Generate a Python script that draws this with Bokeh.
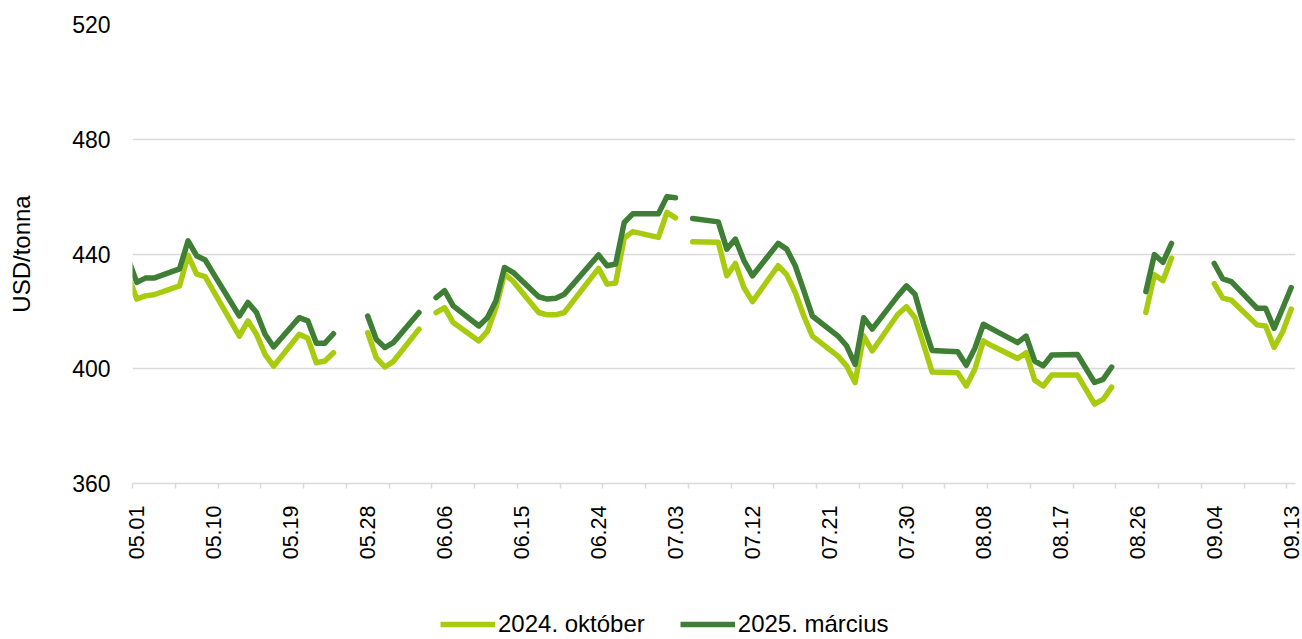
import math
import numpy as np
import pandas as pd
from bokeh.plotting import figure
from bokeh.layouts import column
from bokeh.models import FixedTicker, Legend, LegendItem, ColumnDataSource
from bokeh.embed import file_html
from bokeh.resources import INLINE

YEAR = 2024
START = "05.01"

dates = ["04.30", "05.01", "05.02", "05.03", "05.06", "05.07", "05.08", "05.09", "05.10",
         "05.13", "05.14", "05.15", "05.16", "05.17", "05.20", "05.21", "05.22", "05.23", "05.24",
         "05.27", "05.28", "05.29", "05.30", "05.31", "06.03", "06.04", "06.05", "06.06", "06.07",
         "06.10", "06.11", "06.12", "06.13", "06.14", "06.17", "06.18", "06.19", "06.20", "06.21",
         "06.24", "06.25", "06.26", "06.27", "06.28", "07.01", "07.02", "07.03", "07.04", "07.05",
         "07.08", "07.09", "07.10", "07.11", "07.12", "07.15", "07.16", "07.17", "07.18", "07.19",
         "07.22", "07.23", "07.24", "07.25", "07.26", "07.29", "07.30", "07.31", "08.01", "08.02",
         "08.05", "08.06", "08.07", "08.08", "08.09", "08.12", "08.13", "08.14", "08.15", "08.16",
         "08.19", "08.20", "08.21", "08.22", "08.23", "08.26", "08.27", "08.28", "08.29", "08.30",
         "09.02", "09.03", "09.04", "09.05", "09.06", "09.09", "09.10", "09.11", "09.12", "09.13"]

oct_2024 = [432.3, 424.3, 425.4, 425.8, 428.9, 439.5, 433.0, 432.1, 426.9,
            411.4, 416.7, 412.0, 405.0, 400.9, 412.0, 410.6, 402.1, 402.7, 405.6,
            None, 412.6, 403.9, 400.6, 402.5, 413.8, None, 419.6, 421.3, 416.1,
            409.7, 413.0, 421.3, 433.0, 430.5, 419.6, 418.8, 418.8, 419.6, 423.5,
            435.0, 429.5, 429.9, 445.6, 447.8, 445.8, 454.5, 452.6, None, 444.3,
            444.1, 432.4, 436.7, 428.3, 423.4, 435.9, 432.8, 426.6, 418.4, 411.4,
            404.4, 401.0, 395.2, 411.4, 406.2, 419.0, 421.6, 417.8, 408.5, 398.9,
            398.6, 394.0, 399.8, 409.7, 408.0, 403.6, 405.6, 396.0, 394.0, 397.8,
            397.8, 392.7, 387.7, 389.3, 393.6, None, 419.6, 432.8, 430.7, 438.6,
            None, None, 429.7, 424.6, 423.9, 415.3, 414.9, 407.4, 412.9, 420.8]

mar_2025 = [438.3, 430.1, 431.6, 431.6, 434.8, 444.6, 439.4, 437.9, 433.0,
            418.4, 423.1, 419.6, 412.0, 407.6, 417.8, 416.7, 408.9, 408.9, 412.2,
            None, 418.4, 410.3, 407.4, 409.1, 419.6, None, 424.8, 427.2, 421.9,
            414.9, 417.8, 423.7, 435.3, 433.6, 425.1, 424.3, 424.6, 426.0, 429.4,
            439.7, 435.9, 436.5, 451.0, 454.0, 454.0, 460.0, 459.6, None, 452.4,
            451.2, 441.7, 445.2, 437.7, 432.4, 443.7, 441.7, 435.9, 427.2, 418.4,
            411.4, 408.0, 401.5, 417.8, 413.8, 425.4, 428.9, 426.0, 415.5, 406.4,
            405.9, 401.2, 407.1, 415.5, 413.9, 409.1, 411.4, 402.7, 401.0, 404.8,
            405.0, 400.1, 395.2, 396.3, 400.6, None, 426.9, 439.8, 437.1, 443.7,
            None, None, 436.7, 431.3, 430.4, 421.1, 421.1, 414.1, 421.1, 428.3]

tick_labels = ["05.01", "05.10", "05.19", "05.28", "06.06", "06.15", "06.24", "07.03",
               "07.12", "07.21", "07.30", "08.08", "08.17", "08.26", "09.04", "09.13"]
y_ticks = [360, 400, 440, 480, 520]
series_names = ["2024. október", "2025. március"]
y_title = "USD/tonna"
colors = ["#A9CB0F", "#3F7F35"]

FONT = "Liberation Sans"
LW = 5.5


def to_day(s):
    t = pd.Timestamp(f"{YEAR}-{s[:2]}-{s[3:]}")
    t0 = pd.Timestamp(f"{YEAR}-{START[:2]}-{START[3:]}")
    return (t - t0).days


x = [to_day(d) for d in dates]
src = ColumnDataSource(dict(
    x=x,
    a=[np.nan if v is None else v for v in oct_2024],
    b=[np.nan if v is None else v for v in mar_2025],
))

last_day = to_day(tick_labels[-1])

p = figure(width=1302, height=565, x_range=(-0.5, last_day + 0.5), y_range=(360, 520),
           output_backend="svg", toolbar_location=None,
           min_border_left=132, min_border_right=7, min_border_top=24, min_border_bottom=82)
p.outline_line_color = None
p.background_fill_color = "white"
p.border_fill_color = "white"

r1 = p.line("x", "a", source=src, line_color=colors[0], line_width=LW,
            line_join="round", line_cap="round")
r2 = p.line("x", "b", source=src, line_color=colors[1], line_width=LW,
            line_join="round", line_cap="round")

# x axis
tick_pos = [to_day(t) for t in tick_labels]
minor = [k - 0.5 for k in range(0, last_day + 1, 5)]
xa = p.xaxis[0]
xa.ticker = FixedTicker(ticks=tick_pos, minor_ticks=minor)
xa.major_label_overrides = {t: lab for t, lab in zip(tick_pos, tick_labels)}
xa.major_label_orientation = math.pi / 2
xa.major_tick_line_color = None
xa.major_tick_out = 0
xa.major_tick_in = 0
xa.minor_tick_line_color = "#D9D9D9"
xa.minor_tick_line_width = 1.5
xa.minor_tick_out = 5
xa.minor_tick_in = 0
xa.axis_line_color = "#D9D9D9"
xa.axis_line_width = 1.5
xa.major_label_standoff = 17
xa.major_label_text_font = FONT
xa.major_label_text_font_size = "21.5px"
xa.major_label_text_color = "#000000"

# y axis
ya = p.yaxis[0]
ya.ticker = FixedTicker(ticks=y_ticks)
ya.axis_line_color = None
ya.major_tick_line_color = None
ya.minor_tick_line_color = None
ya.major_tick_out = 0
ya.major_tick_in = 0
ya.major_label_standoff = 22
ya.major_label_text_font = FONT
ya.major_label_text_font_size = "23px"
ya.major_label_text_color = "#000000"
ya.axis_label = y_title
ya.axis_label_standoff = 34
ya.axis_label_text_font = FONT
ya.axis_label_text_font_size = "24px"
ya.axis_label_text_font_style = "normal"
ya.axis_label_text_color = "#000000"

p.xgrid.grid_line_color = None
p.ygrid.grid_line_color = "#D9D9D9"
p.ygrid.grid_line_width = 1.5

# legend strip below the chart (its own lines fall outside its visible range)
pl = figure(width=1302, height=73, x_range=(-0.5, last_day + 0.5), y_range=(0, 1),
            output_backend="svg", toolbar_location=None,
            x_axis_location=None, y_axis_location=None,
            min_border_left=0, min_border_right=0, min_border_top=0, min_border_bottom=0)
pl.outline_line_color = None
pl.xgrid.visible = False
pl.ygrid.visible = False
l1 = pl.line("x", "a", source=src, line_color=colors[0], line_width=LW)
l2 = pl.line("x", "b", source=src, line_color=colors[1], line_width=LW)

legend = Legend(items=[LegendItem(label=series_names[0], renderers=[l1]),
                       LegendItem(label=series_names[1], renderers=[l2])],
                orientation="horizontal", location=(308, 0),
                glyph_width=55, glyph_height=24, label_height=24,
                label_standoff=3, spacing=35, padding=0, margin=0,
                label_text_font=FONT, label_text_font_size="24px", label_text_color="#000000",
                border_line_color=None, background_fill_alpha=0)
pl.add_layout(legend, "center")

open("out.html", "w").write(file_html(column(p, pl, spacing=0), INLINE))
